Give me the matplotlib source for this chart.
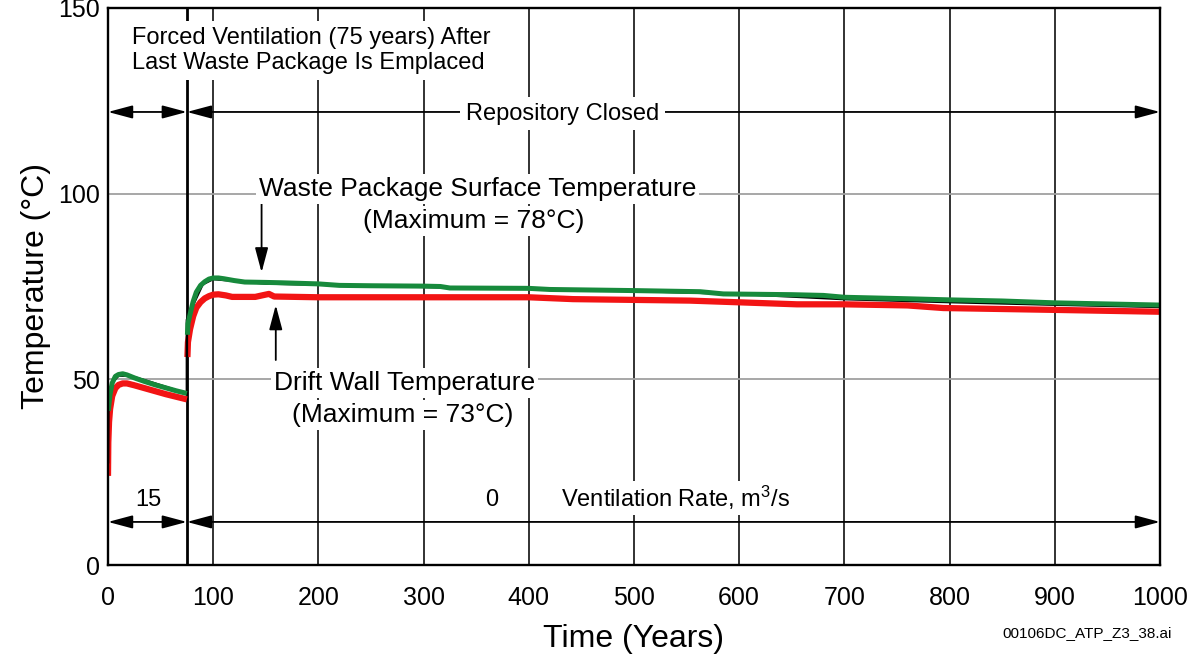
import numpy as np
import matplotlib
matplotlib.use('Agg')
from matplotlib import pyplot as plt

plt.rcParams['font.family'] = ['Liberation Sans', 'DejaVu Sans']
plt.rcParams['mathtext.fontset'] = 'custom'
plt.rcParams['mathtext.rm'] = 'Liberation Sans'
plt.rcParams['mathtext.default'] = 'regular'

# forced ventilation period (0 - 75 years)
t_vent = [0, 0.3, 1, 2, 4, 7, 10, 14, 18, 25, 35, 45, 55, 65, 75]
wp_vent = [38.0, 41.5, 43.5, 46.0, 49.0, 50.8, 51.3, 51.5, 51.2, 50.4, 49.4, 48.5, 47.7, 46.9, 46.2]
dw_vent = [24.0, 33.0, 38.5, 42.0, 45.5, 47.6, 48.5, 48.9, 48.9, 48.4, 47.6, 46.8, 46.0, 45.3, 44.6]

# repository closed (75 - 1000 years)
t_wp = [75.5, 76, 78, 81, 84, 88, 92, 96, 100, 105, 110, 120, 130, 150, 165, 200, 220, 250,
        300, 316, 325, 400, 420, 500, 563, 585, 650, 680, 700, 760, 800, 850, 900, 950, 1000]
wp_closed = [62.0, 65.0, 67.5, 71.0, 73.5, 75.3, 76.3, 77.0, 77.3, 77.3, 77.1, 76.6, 76.2, 76.1, 76.0,
             75.7, 75.3, 75.2, 75.1, 75.0, 74.6, 74.5, 74.2, 73.9, 73.6, 73.0, 72.8, 72.6, 72.1,
             71.7, 71.4, 71.1, 70.6, 70.3, 70.0]
t_dw = [75.5, 76, 78, 81, 84, 88, 92, 96, 100, 105, 112, 118, 140, 148, 153, 158, 200, 300,
        400, 442, 553, 604, 655, 700, 760, 794, 900, 1000]
dw_closed = [56.0, 60.0, 63.5, 67.0, 69.3, 70.8, 71.8, 72.4, 72.8, 72.9, 72.6, 72.2, 72.2, 72.7,
             73.0, 72.3, 72.1, 72.1, 72.1, 71.6, 71.2, 70.7, 70.2, 70.2, 69.9, 69.2, 68.7, 68.2]

# third (mostly hidden) black trace
t_blk = [0, 0.3, 2, 5, 10, 20, 40, 60, 75, 75, 80, 90, 100, 150, 200, 300, 400, 500, 600, 650,
         700, 800, 900, 1000]
blk = [27.7, 41.5, 46.0, 49.5, 51.0, 51.0, 49.3, 47.5, 46.0, 66.0, 69.5, 75.6, 77.0, 75.8, 75.5,
       74.9, 74.4, 73.8, 73.0, 72.3, 71.6, 70.8, 70.1, 69.5]

x_ticks = list(range(0, 1001, 100))
y_ticks = [0, 50, 100, 150]

fig = plt.figure(figsize=(11.88, 6.55), dpi=100)
ax = fig.add_axes([0.0909, 0.1374, 0.8855, 0.8504])
ax.set_xlim(0, 1000)
ax.set_ylim(0, 150)
ax.set_xticks(x_ticks)
ax.set_yticks(y_ticks)
ax.tick_params(length=0, labelsize=18)
ax.tick_params(axis='x', pad=15)
ax.tick_params(axis='y', pad=6)
for s in ax.spines.values():
    s.set_linewidth(1.7)
    s.set_zorder(10)

ax.xaxis.grid(True, color='#222222', lw=1.3, zorder=0)
ax.yaxis.grid(True, color='#a0a0a0', lw=1.3, zorder=0)
ax.set_axisbelow(True)
ax.axvline(75, color='black', lw=2.0, zorder=1)

red = '#f21414'
green = '#178a3c'
ax.plot(t_vent, dw_vent, color=red, lw=4.5, zorder=3, solid_capstyle='butt')
ax.plot(t_dw, dw_closed, color=red, lw=4.5, zorder=3, solid_capstyle='butt')
ax.plot(t_blk, blk, color='black', lw=1.8, zorder=4)
ax.plot(t_vent[1:], wp_vent[1:], color=green, lw=3.6, zorder=5, solid_capstyle='butt')
ax.plot(t_wp, wp_closed, color=green, lw=3.6, zorder=5, solid_capstyle='butt')

ax.set_xlabel('Time (Years)', fontsize=23, labelpad=10)
ax.set_ylabel('Temperature (°C)', fontsize=23, labelpad=5)

wbox = dict(facecolor='white', edgecolor='none', pad=2)
dbl = dict(arrowstyle='<|-|>,head_length=1.5,head_width=0.4', color='black', lw=1.3,
           shrinkA=0, shrinkB=0, mutation_scale=10)
one = dict(arrowstyle='-|>,head_length=1.5,head_width=0.4', color='black', lw=1.3,
           shrinkA=0, shrinkB=0, mutation_scale=10)

# top annotations
ax.text(23, 138.5, 'Forced Ventilation (75 years) After\nLast Waste Package Is Emplaced',
        fontsize=17, ha='left', va='center', linespacing=1.2, zorder=6,
        bbox=dict(facecolor='white', edgecolor='none', pad=4))
ax.annotate('', xy=(0, 122), xytext=(75, 122), arrowprops=dbl, zorder=6)
ax.annotate('', xy=(75, 122), xytext=(1000, 122), arrowprops=dbl, zorder=6)
ax.text(432, 121.5, 'Repository Closed', fontsize=17, ha='center', va='center', zorder=7,
        bbox=dict(facecolor='white', edgecolor='none', pad=4))

# bottom annotations
ax.annotate('', xy=(0, 11.6), xytext=(75, 11.6), arrowprops=dbl, zorder=6)
ax.annotate('', xy=(75, 11.6), xytext=(1000, 11.6), arrowprops=dbl, zorder=6)
ax.text(38, 17.5, '15', fontsize=17, ha='center', va='center', zorder=7, bbox=wbox)
ax.text(365, 17.5, '0', fontsize=17, ha='center', va='center', zorder=7, bbox=wbox)
ax.text(431, 18, 'Ventilation Rate, m$^{3}$/s', fontsize=17, ha='left', va='center',
        zorder=7, bbox=wbox)

# curve labels
ax.text(351, 101.3, 'Waste Package Surface Temperature', fontsize=19, ha='center',
        va='center', zorder=7, bbox=wbox)
ax.text(348, 92.6, '(Maximum = 78°C)', fontsize=19, ha='center', va='center', zorder=7,
        bbox=wbox)
ax.annotate('', xy=(146, 78.8), xytext=(146, 97.5), arrowprops=one, zorder=6)

ax.text(281.5, 49.0, 'Drift Wall Temperature', fontsize=19, ha='center', va='center',
        zorder=7, bbox=wbox)
ax.text(280, 40.4, '(Maximum = 73°C)', fontsize=19, ha='center', va='center', zorder=7,
        bbox=wbox)
ax.annotate('', xy=(159.5, 70.0), xytext=(159.5, 55.2), arrowprops=one, zorder=6)

fig.text(0.9865, 0.034, '00106DC_ATP_Z3_38.ai', fontsize=11, ha='right', va='center')

fig.savefig('out.png', dpi=100)
